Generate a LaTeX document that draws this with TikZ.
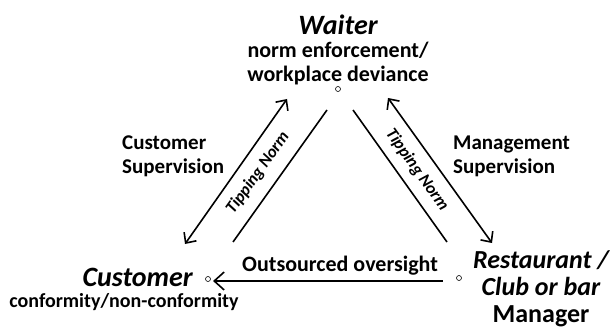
\documentclass[tikz,border=0pt]{standalone}
\usepackage{fontspec}
\setmainfont{Carlito}
\usetikzlibrary{arrows.meta}

\begin{document}
\begin{tikzpicture}[x=1pt,y=-1pt,
    every node/.style={font=\bfseries\fontsize{21}{24}\selectfont,inner sep=0pt},
    big/.style={font=\bfseries\fontsize{22}{24}\selectfont},
    small/.style={font=\bfseries\fontsize{20}{24}\selectfont},
    role/.style={font=\bfseries\itshape\fontsize{28}{30}\selectfont},
    place/.style={font=\bfseries\fontsize{26}{27}\selectfont},
    tipnorm/.style={font=\bfseries\itshape\fontsize{17}{20}\selectfont},
    dot/.style={circle,draw,line width=0.6pt,minimum size=5pt},
    link/.style={line width=1.6pt},
    both/.style={{Straight Barb[length=8pt,width=15pt]}-{Straight Barb[length=8pt,width=15pt]}},
    back/.style={{Straight Barb[length=10pt,width=18pt]}-}]
          \useasboundingbox (0,0) rectangle (613,331);

          % the three parties
          \node[role,anchor=base] (waiter) at (338,35) {Waiter};
          \node[big,anchor=north,align=center] (waiterrole) at (338,42) {norm enforcement/\\workplace deviance};
          \node[dot] (wdot) at (338,89) {};

          \node[role,anchor=base east] (customer) at (193,286) {Customer};
          \node[small,anchor=base] (customerrole) at (124,307) {conformity/non-conformity};
          \node[dot] (cdot) at (208,279) {};

          \node[place,anchor=north,align=center] (manager) at (541,250) {{\itshape Restaurant /}\\{\itshape Club or bar}\\Manager};
          \node[dot] (rdot) at (459,278) {};

          % left side
          \coordinate (la1) at (287,99);
          \coordinate (la2) at (185,244);
          \draw[link,both] (la1) -- (la2);
          \coordinate (ll1) at (327,110);
          \coordinate (ll2) at (233,242);
          \draw[link] (ll1) -- (ll2);
          \node[tipnorm,rotate=54.5] (lnorm) at (258,173) {Tipping Norm};
          \node[anchor=north west,align=left] (csup) at (122,136) {Customer\\Supervision};

          % right side
          \coordinate (ra1) at (388,98);
          \coordinate (ra2) at (492,243);
          \draw[link,both] (ra1) -- (ra2);
          \coordinate (rl1) at (353,110);
          \coordinate (rl2) at (447,242);
          \draw[link] (rl1) -- (rl2);
          \node[tipnorm,rotate=-54.5] (rnorm) at (417,170) {Tipping Norm};
          \node[anchor=north west,align=left] (msup) at (453,136) {Management\\Supervision};

          % bottom
          \coordinate (ob1) at (443,281);
          \coordinate (ob2) at (213,281);
          \draw[link,back] (ob2) -- (ob1);
          \node[big,anchor=base west] (oversight) at (242,271) {Outsourced oversight};
\end{tikzpicture}
\end{document}
